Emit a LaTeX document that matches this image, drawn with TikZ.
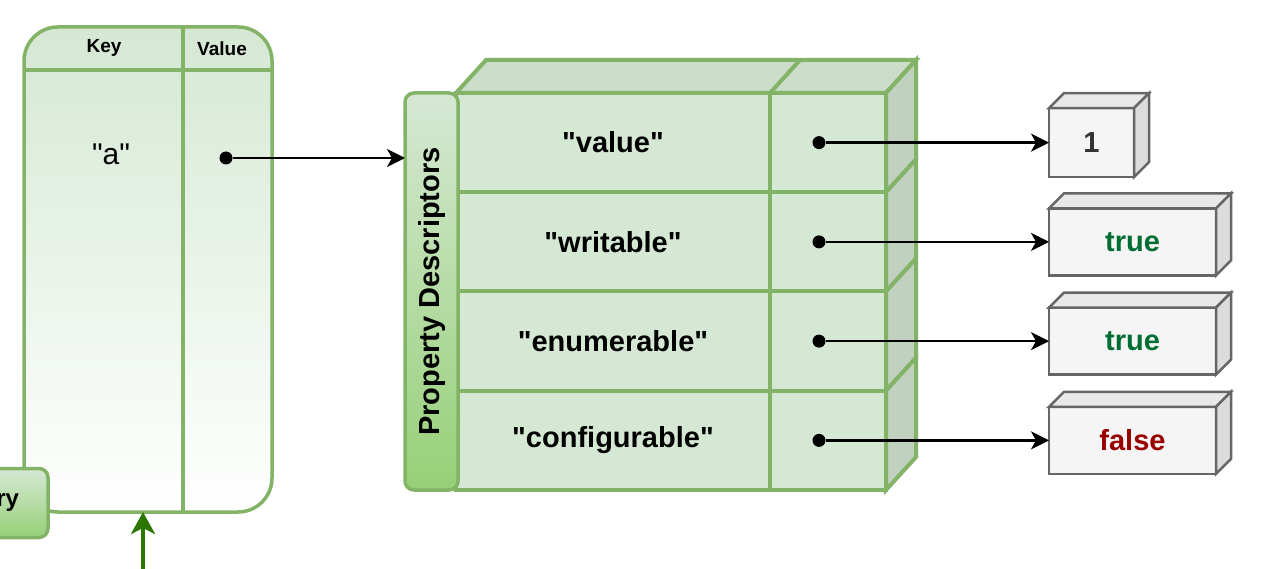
\documentclass[tikz,border=0pt]{standalone}
\usepackage{fontspec}
\setmainfont{Liberation Sans}[Ligatures=TeXOff]
\usepackage{tikz}
\usetikzlibrary{arrows.meta,positioning,calc}
\definecolor{kvgreen}{RGB}{213,232,212}
\definecolor{kvline}{RGB}{130,179,102}
\definecolor{kvdeep}{RGB}{151,208,119}
\definecolor{kvtop}{RGB}{203,221,201}
\definecolor{kvside}{RGB}{193,209,191}
\definecolor{ptrgreen}{RGB}{45,118,0}
\definecolor{boxgray}{RGB}{245,245,245}
\definecolor{boxtop}{RGB}{232,232,232}
\definecolor{boxside}{RGB}{220,220,220}
\definecolor{boxline}{RGB}{102,102,102}
\definecolor{truegreen}{RGB}{0,110,50}
\definecolor{falsered}{RGB}{153,0,0}
\newcommand{\cellfont}{\fontsize{29}{33}\selectfont\bfseries}
\newcommand{\headfont}{\fontsize{19}{22}\selectfont\bfseries}
\newcommand{\keyfont}{\fontsize{30}{34}\selectfont}
\newcommand{\tagfont}{\fontsize{24}{28}\selectfont\bfseries}
\tikzset{
    dictbox/.style={rectangle, draw=kvline, line width=3.5pt, rounded corners=34pt,
                    top color=kvgreen, bottom color=white, outer sep=0pt},
    kvrule/.style={draw=kvline, line width=3.5pt},
    tagbox/.style={rectangle, draw=kvline, line width=3.5pt, rounded corners=9pt,
                   top color=kvgreen, bottom color=kvdeep, outer sep=0pt,
                   font=\cellfont},
    cell/.style={rectangle, draw=kvline, fill=kvgreen, line width=4pt, outer sep=0pt,
                 minimum height=99.25pt, font=\cellfont},
    keycell/.style={cell, minimum width=314pt},
    valcell/.style={cell, minimum width=116pt},
    cubetop/.style={draw=kvline, fill=kvtop, line width=4pt},
    cubeside/.style={draw=kvline, fill=kvside, line width=4pt},
    valbox/.style={rectangle, draw=boxline, fill=boxgray, line width=2.5pt,
                   outer sep=0pt, minimum width=167pt, minimum height=67pt,
                   font=\cellfont},
    valtop/.style={draw=boxline, fill=boxtop, line width=2.5pt},
    valside/.style={draw=boxline, fill=boxside, line width=2.5pt},
    dot/.style={circle, fill=black, inner sep=0pt, minimum size=13pt},
    ptr/.style={-{Stealth[length=18pt, width=18pt, inset=5pt]}, line width=2.5pt},
    ptrg/.style={-{Stealth[length=22pt, width=24pt, inset=6pt]}, line width=4pt,
                 draw=ptrgreen, fill=ptrgreen},
}

\begin{document}
\begin{tikzpicture}[x=1pt, y=-1pt]
    \useasboundingbox (0,0) rectangle (1280,569);

    % key/value table
    \node[dictbox, minimum width=248pt, minimum height=485pt] (dict) at (148,269.5) {};
    \draw[kvrule] ($(dict.north west)+(0,43)$) -- ($(dict.north east)+(0,43)$);
    \draw[kvrule] ($(dict.north west)+(159,0)$) -- ($(dict.south west)+(159,0)$);
    \node[font=\headfont] (keyh) at (104,48) {Key};
    \node[font=\headfont] (valh) at (222,49) {Value};
    \node[font=\keyfont]  (akey) at (111,154) {"a"};
    \node[dot]            (pa)   at (226,158) {};

    \node[tagbox, font=\tagfont, anchor=east, text width=60pt, align=right,
          inner xsep=29pt, minimum height=69pt] (mem) at (48,503) {ry};
    \coordinate (src) at (143,575);
    \draw[ptrg] (src) -- (dict.south -| src);

    % descriptor cube
    \node[keycell, anchor=north west] (k1) at (456,93) {"value"};
    \node[valcell, right=0pt of k1]   (v1) {};
    \node[keycell, below=0pt of k1]   (k2) {"writable"};
    \node[valcell, right=0pt of k2]   (v2) {};
    \node[keycell, below=0pt of k2]   (k3) {"enumerable"};
    \node[valcell, right=0pt of k3]   (v3) {};
    \node[keycell, below=0pt of k3]   (k4) {"configurable"};
    \node[valcell, right=0pt of k4]   (v4) {};

    \draw[cubetop] (k1.north west) -- ++(30,-33) -- ($(v1.north east)+(30,-33)$)
        -- (v1.north east) -- cycle;
    \draw[cubetop] (k1.north east) -- ++(30,-33);
    \foreach \r in {1,...,4}
        \draw[cubeside] (v\r.north east) -- ++(30,-33) -- ($(v\r.south east)+(30,-33)$)
            -- (v\r.south east) -- cycle;

    \node[tagbox, minimum width=53pt, minimum height=397pt, anchor=north east]
        (pd) at ([xshift=2pt]k1.north west) {\rotatebox{90}{Property Descriptors}};
    \draw[ptr] (pa) -- (pa -| pd.west);

    % values
    \node[valbox, minimum width=85pt, minimum height=69pt, right=163pt of v1,
          text=black!80] (o1) {1};
    \node[valbox, right=163pt of v2, text=truegreen] (o2) {true};
    \node[valbox, right=163pt of v3, text=truegreen] (o3) {true};
    \node[valbox, right=163pt of v4, text=falsered]  (o4) {false};

    \foreach \r in {1,...,4}{
        \draw[valtop] (o\r.north west) -- ++(15,-15) -- ($(o\r.north east)+(15,-15)$)
            -- (o\r.north east) -- cycle;
        \draw[valside] (o\r.north east) -- ++(15,-15) -- ($(o\r.south east)+(15,-15)$)
            -- (o\r.south east) -- cycle;
        \node[dot] (p\r) at ([xshift=-9pt]v\r.center) {};
        \draw[ptr] (p\r) -- (p\r -| o\r.west);
    }
\end{tikzpicture}
\end{document}
